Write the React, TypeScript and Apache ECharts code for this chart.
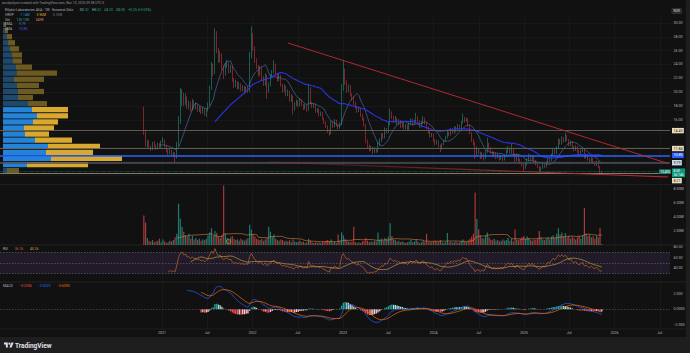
import React, { useEffect, useRef } from "react";
import * as echarts from "echarts";

// ---------------- data ----------------
const startDate = "2020-10-19"; // first weekly candle
const firstOpen = 17.0;
const closes = [
  14.2, 12.4, 12.9, 12.1, 11.8, 12.6, 12.2, 11.9, 12.5, 12.1,
  12.8, 13.1, 12.2, 11.5, 11.2, 11.6, 10.9, 11.1, 10.6, 12.4,
  15.8, 18.6, 19.6, 18.4, 19.2, 17.9, 18.3, 17.5, 18.6, 17.8,
  18.1, 17.3, 17.8, 17.0, 17.6, 16.9, 17.4, 18.2, 20.5, 23.8,
  22.8, 28.5, 26.0, 24.6, 25.4, 23.5, 22.6, 23.8, 24.1, 23.0,
  23.6, 21.8, 20.9, 21.5, 20.6, 21.2, 20.3, 20.8, 20.1, 20.6,
  20.2, 25.2, 28.2, 26.4, 24.6, 23.6, 22.6, 23.4, 22.0, 21.2,
  22.4, 20.3, 21.0, 22.3, 22.9, 24.0, 22.6, 21.8, 22.4, 21.0,
  20.2, 20.8, 19.6, 20.1, 18.8, 19.4, 17.6, 18.2, 18.6, 18.0,
  18.9, 18.2, 17.6, 18.1, 17.4, 20.6, 18.4, 17.9, 18.2, 17.2,
  17.5, 16.7, 17.0, 16.1, 15.6, 15.0, 14.3, 14.0, 15.6, 15.0,
  15.9, 15.2, 14.8, 15.4, 20.6, 23.0, 21.4, 20.2, 20.8, 19.6,
  19.0, 18.3, 17.8, 17.2, 17.6, 16.6, 16.1, 15.2, 12.8, 12.2,
  11.6, 12.0, 11.3, 11.8, 11.5, 12.4, 13.0, 13.8, 13.4, 14.6,
  14.2, 15.4, 17.0, 16.4, 15.8, 16.2, 15.4, 15.9, 15.0, 15.6,
  14.8, 15.2, 14.6, 15.4, 16.0, 15.3, 15.8, 16.4, 15.7, 15.0,
  15.6, 16.2, 15.5, 14.8, 14.2, 13.6, 13.9, 13.0, 12.5, 12.9,
  12.2, 11.8, 12.4, 12.9, 13.5, 14.2, 13.8, 14.6, 14.1, 14.9,
  14.4, 15.2, 14.7, 15.6, 16.3, 15.8, 16.1, 15.2, 14.1, 13.0,
  12.6, 10.9, 11.6, 11.2, 10.6, 11.0, 10.4, 11.4, 12.5, 11.8,
  11.3, 10.8, 11.2, 10.5, 10.9, 10.3, 10.7, 10.2, 10.8, 11.4,
  11.9, 11.3, 11.7, 11.0, 10.1, 10.9, 10.2, 9.8, 9.4, 9.0,
  9.6, 10.2, 10.8, 10.3, 10.7, 10.0, 9.6, 9.2, 8.7, 9.0,
  9.5, 9.2, 9.8, 10.4, 10.1, 10.9, 11.6, 11.2, 12.0, 13.0,
  12.6, 13.4, 12.9, 13.6, 13.1, 12.4, 12.8, 12.0, 11.6, 12.1,
  11.4, 11.0, 11.5, 11.8, 10.6, 10.9, 10.3, 10.0, 10.4, 9.8,
  9.5, 9.9, 9.2, 8.25, 8.5,
];
const highs = [
  17.9, 14.6, 13.1, 13.0, 12.3, 12.8, 12.9, 12.4, 12.7, 12.6,
  13.0, 13.5, 13.2, 12.3, 11.7, 11.8, 11.7, 11.4, 11.3, 12.8,
  16.5, 20.6, 20.4, 19.9, 19.8, 19.4, 18.8, 18.6, 19.0, 18.8,
  18.5, 18.3, 18.0, 17.9, 17.8, 17.7, 17.6, 18.5, 20.9, 24.4,
  24.1, 29.2, 28.8, 26.4, 25.9, 25.6, 23.9, 24.2, 24.6, 24.3,
  23.9, 23.8, 22.0, 21.8, 21.6, 21.4, 21.3, 21.0, 20.9, 20.8,
  20.8, 25.8, 29.5, 28.5, 26.6, 24.9, 23.9, 23.8, 23.6, 22.3,
  22.7, 22.5, 21.4, 22.6, 23.2, 24.6, 24.1, 22.8, 22.7, 22.5,
  21.2, 21.1, 20.9, 20.4, 20.2, 19.7, 19.5, 18.5, 18.9, 18.8,
  19.1, 19.0, 18.3, 18.3, 18.2, 21.2, 20.7, 18.6, 18.4, 18.3,
  17.7, 17.6, 17.2, 17.1, 16.3, 15.8, 15.2, 14.6, 15.9, 15.8,
  16.1, 16.0, 15.4, 15.6, 21.2, 24.5, 23.4, 21.7, 21.1, 21.0,
  19.8, 19.4, 18.6, 18.0, 17.9, 17.7, 16.8, 16.3, 15.4, 13.1,
  12.4, 12.2, 12.1, 12.0, 11.9, 12.8, 13.3, 14.1, 14.0, 14.9,
  14.8, 15.7, 17.6, 17.2, 16.6, 16.5, 16.3, 16.1, 16.0, 15.8,
  15.7, 15.4, 15.3, 15.6, 16.2, 16.2, 16.0, 17.0, 16.5, 15.9,
  15.8, 16.5, 16.3, 15.7, 15.0, 14.4, 14.1, 14.0, 13.2, 13.1,
  13.0, 12.4, 12.6, 13.1, 13.7, 14.5, 14.3, 14.8, 14.7, 15.1,
  15.0, 15.4, 15.3, 15.8, 16.9, 16.4, 16.3, 16.2, 15.3, 14.2,
  13.2, 12.8, 12.1, 11.8, 11.4, 11.3, 11.2, 11.6, 13.4, 12.7,
  12.0, 11.5, 11.4, 11.3, 11.1, 11.0, 10.9, 10.8, 11.0, 11.7,
  12.2, 12.0, 12.6, 11.8, 11.1, 11.1, 11.0, 10.4, 9.9, 9.6,
  9.8, 10.4, 11.1, 11.0, 10.9, 10.8, 10.2, 9.8, 9.4, 9.2,
  9.7, 9.6, 10.0, 10.6, 10.6, 11.1, 11.8, 11.8, 12.2, 13.3,
  13.2, 13.6, 13.5, 14.1, 13.8, 13.2, 13.0, 12.9, 12.2, 12.3,
  12.2, 11.6, 11.7, 12.0, 11.9, 11.1, 11.0, 10.5, 10.6, 10.5,
  10.0, 10.1, 10.0, 9.3, 8.52,
];
const lows = [
  13.8, 12.1, 12.0, 11.8, 11.5, 11.6, 12.0, 11.6, 11.7, 11.9,
  11.9, 12.6, 12.0, 11.3, 10.9, 11.0, 10.7, 10.6, 9.8, 10.4,
  12.2, 15.4, 18.0, 18.0, 18.1, 17.6, 17.5, 17.2, 17.3, 17.5,
  17.5, 17.1, 17.1, 16.8, 16.9, 16.6, 16.4, 17.2, 18.0, 20.3,
  22.3, 22.6, 25.6, 24.2, 24.3, 23.2, 21.9, 22.4, 23.5, 22.7,
  22.8, 21.5, 20.6, 20.7, 20.4, 20.4, 20.1, 20.1, 19.7, 19.9,
  19.9, 20.0, 24.9, 26.0, 24.2, 23.3, 22.2, 22.4, 21.7, 20.9,
  20.9, 19.0, 19.9, 20.8, 22.0, 22.7, 22.4, 21.5, 21.6, 20.8,
  19.9, 20.0, 19.4, 19.4, 18.6, 18.6, 16.8, 17.3, 18.0, 17.8,
  17.9, 18.0, 17.4, 17.5, 17.2, 17.3, 18.2, 17.7, 17.7, 17.0,
  17.0, 16.5, 16.5, 16.0, 15.4, 14.8, 14.1, 13.7, 13.9, 14.8,
  14.9, 15.0, 14.6, 14.7, 15.2, 20.2, 21.0, 19.9, 20.0, 19.4,
  18.8, 18.1, 17.6, 17.0, 17.1, 16.4, 15.9, 15.0, 12.6, 11.9,
  11.4, 11.5, 11.0, 11.2, 11.2, 11.3, 12.2, 12.8, 13.2, 13.3,
  14.0, 14.1, 15.2, 16.1, 15.6, 15.6, 15.2, 15.3, 14.8, 14.9,
  14.6, 14.6, 14.4, 14.5, 15.2, 15.1, 15.2, 15.6, 15.5, 14.8,
  14.9, 15.4, 15.3, 14.6, 14.0, 13.4, 13.5, 12.8, 12.3, 12.4,
  12.0, 11.3, 11.7, 12.3, 12.8, 13.3, 13.6, 13.7, 14.0, 14.0,
  14.2, 14.3, 14.5, 14.6, 15.5, 15.6, 15.7, 15.0, 13.9, 12.8,
  12.3, 10.3, 10.6, 11.0, 10.3, 10.4, 10.1, 10.3, 11.2, 11.6,
  11.1, 10.6, 10.6, 10.3, 10.4, 10.1, 10.2, 10.0, 10.1, 10.6,
  11.2, 11.1, 11.1, 10.8, 9.9, 10.0, 10.0, 9.6, 9.2, 8.6,
  8.9, 9.4, 10.0, 10.1, 10.1, 9.8, 9.4, 9.0, 8.4, 8.6,
  8.9, 9.0, 9.1, 9.6, 9.9, 10.0, 10.7, 11.0, 11.0, 11.8,
  12.4, 12.4, 12.7, 12.8, 12.9, 12.2, 12.2, 11.8, 11.4, 11.5,
  11.2, 10.8, 10.9, 11.3, 10.4, 10.4, 10.1, 9.8, 9.9, 9.6,
  9.3, 9.3, 9.0, 8.2, 8.2,
];
const volumesM = [
  4.2, 3.2, 1.0, 0.6, 0.5, 0.7, 0.4, 0.5, 0.6, 0.9,
  0.4, 0.8, 0.5, 0.3, 0.4, 0.6, 0.5, 0.7, 1.1, 1.6,
  5.9, 3.8, 2.6, 1.9, 1.4, 1.2, 1.6, 0.9, 1.3, 0.8,
  1.0, 0.7, 0.9, 0.6, 0.8, 0.7, 0.9, 1.4, 1.8, 2.4,
  1.3, 2.0, 1.7, 1.2, 1.0, 1.4, 8.5, 1.6, 1.0, 0.8,
  1.1, 1.3, 0.9, 0.7, 0.8, 0.6, 0.9, 0.7, 0.6, 0.8,
  1.0, 2.9, 2.2, 1.5, 1.2, 0.9, 0.8, 0.7, 0.9, 0.6,
  0.8, 1.0, 2.6, 1.9, 1.2, 1.5, 0.9, 0.7, 0.6, 0.8,
  0.7, 0.5, 0.6, 0.5, 0.7, 0.4, 0.8, 0.5, 0.4, 0.5,
  0.6, 0.4, 0.5, 0.3, 0.4, 0.9, 0.6, 0.4, 0.3, 0.4,
  0.3, 0.4, 0.3, 0.5, 0.4, 0.6, 0.7, 0.5, 0.8, 0.4,
  0.5, 0.3, 1.5, 0.6, 1.8, 1.4, 0.9, 0.6, 0.5, 0.4,
  0.5, 2.6, 0.4, 0.3, 0.4, 0.3, 0.5, 0.6, 1.0, 0.6,
  0.4, 0.5, 0.4, 0.6, 0.5, 1.8, 0.7, 0.9, 0.6, 1.0,
  0.8, 1.2, 3.1, 1.3, 0.8, 0.7, 0.5, 0.6, 0.4, 0.5,
  0.4, 0.3, 0.4, 0.5, 0.7, 0.4, 0.5, 0.8, 0.5, 0.3,
  0.4, 0.6, 0.4, 1.6, 0.4, 0.5, 0.4, 0.5, 0.6, 0.4,
  0.5, 0.7, 0.4, 0.3, 0.4, 1.7, 0.4, 0.5, 0.3, 0.4,
  0.5, 0.3, 0.4, 0.6, 0.8, 0.5, 0.4, 0.6, 0.9, 1.2,
  1.6, 7.5, 3.7, 2.2, 1.4, 1.0, 0.9, 1.3, 1.8, 1.1,
  0.8, 0.7, 0.9, 0.6, 0.7, 0.5, 0.6, 0.8, 0.6, 0.7,
  1.0, 0.6, 0.9, 0.5, 2.2, 0.8, 0.7, 0.9, 1.1, 1.3,
  0.9, 1.2, 1.0, 0.7, 0.6, 0.8, 0.7, 0.9, 2.0, 1.1,
  0.8, 0.7, 0.9, 1.1, 0.8, 1.2, 1.4, 1.0, 1.6, 2.4,
  1.5, 1.8, 1.2, 1.7, 1.1, 1.3, 0.9, 1.2, 1.0, 0.8,
  1.1, 1.3, 0.9, 1.4, 5.3, 1.6, 1.3, 1.5, 1.1, 1.2,
  0.9, 1.3, 1.1, 2.4, 0.13,
];

// visible-range volume profile (rows from the bottom)
const profileLow = 8.21;
const profileStep = 0.88;
const profileUp = [4, 24, 48, 43, 45, 32, 22, 21, 30, 34, 29, 25, 15, 15, 14, 11, 14, 13, 10, 9, 7, 5, 4, 2, 1];
const profileDown = [12, 61, 71, 47, 52, 37, 24, 30, 25, 31, 36, 19, 15, 26, 22, 30, 40, 16, 9, 10, 9, 7, 5, 3, 2];
const profileInValueArea = [false, true, true, true, true, true, true, true, true, true, true, false, false, false, false, false, false, false, false, false, false, false, false, false, false];

const yearTicks = [2021, 2021.5, 2022, 2022.5, 2023, 2023.5, 2024, 2024.5, 2025, 2025.5, 2026, 2026.5];
const priceGrid = [8, 10, 12, 14, 16, 18, 20, 22, 24, 26, 28, 30];
const priceLabels = [16, 18, 20, 22, 24, 26, 28, 30];
const volumeLabels = [2, 4, 6, 8];
const rsiLabels = [40, 60, 80];
const macdLabels = [-2, 0, 2];

const upperTrend = [[2022.392, 27.1], [2026.591, 9.68]];
const lowerTrend = [[2022.182, 9.89], [2026.591, 7.72]];

// ---------------- helpers ----------------
const DAY = 864e5;
const T0 = 2019.21;
const T1 = 2026.613;
const FONT = "Roboto, 'DejaVu Sans', sans-serif";

const toYear = (ms: number) => 2020 + (ms - Date.UTC(2020, 0, 1)) / (365.25 * DAY);

function sma(a: (number | null)[], n: number): (number | null)[] {
  const out: (number | null)[] = a.map(() => null);
  for (let i = n - 1; i < a.length; i++) {
    let s = 0;
    let ok = true;
    for (let j = i - n + 1; j <= i; j++) {
      const v = a[j];
      if (v == null) { ok = false; break; }
      s += v;
    }
    if (ok) out[i] = s / n;
  }
  return out;
}
function ema(a: (number | null)[], n: number): (number | null)[] {
  const out: (number | null)[] = a.map(() => null);
  const start = a.findIndex((v) => v != null);
  if (start < 0 || start + n - 1 >= a.length) return out;
  const k = 2 / (n + 1);
  let s = 0;
  for (let i = start; i < start + n; i++) s += a[i] as number;
  let prev = s / n;
  out[start + n - 1] = prev;
  for (let i = start + n; i < a.length; i++) {
    prev = k * (a[i] as number) + (1 - k) * prev;
    out[i] = prev;
  }
  return out;
}
function rsi(c: number[], n: number): (number | null)[] {
  const out: (number | null)[] = c.map(() => null);
  let ag = 0, al = 0;
  for (let i = 1; i <= n; i++) {
    const d = c[i] - c[i - 1];
    if (d > 0) ag += d; else al -= d;
  }
  ag /= n; al /= n;
  out[n] = al === 0 ? 100 : 100 - 100 / (1 + ag / al);
  for (let i = n + 1; i < c.length; i++) {
    const d = c[i] - c[i - 1];
    ag = (ag * (n - 1) + Math.max(d, 0)) / n;
    al = (al * (n - 1) + Math.max(-d, 0)) / n;
    out[i] = al === 0 ? 100 : 100 - 100 / (1 + ag / al);
  }
  return out;
}

echarts.graphic.registerShape(
  "tvlogo",
  echarts.graphic.extendPath(
    "M14 22H7V11H0V4h14v18z M28 22h-8l7.5-18h8L28 22z M24 8a4 4 0 1 1-8 0a4 4 0 0 1 8 0z",
    {}
  )
);

export default function App() {
  const ref = useRef<HTMLDivElement>(null);

  useEffect(() => {
    if (!ref.current) return;
    const chart = echarts.init(ref.current, null, { renderer: "svg" });

    const n = Math.min(closes.length, highs.length, lows.length, volumesM.length);
    const t0ms = Date.parse(startDate + "T00:00:00Z");
    const times = Array.from({ length: n }, (_, i) => toYear(t0ms + i * 7 * DAY));
    const cl = closes.slice(0, n);
    const opens = cl.map((_, i) => (i === 0 ? firstOpen : cl[i - 1]));
    const up = cl.map((c, i) => c >= opens[i]);

    const pairs = (arr: (number | null)[]) =>
      arr.map((v, i) => (v == null ? null : [times[i], v])).filter((p) => p != null);

    const candleData = times.map((t, i) => [t, opens[i], cl[i], lows[i], highs[i]]);
    const smaShort = sma(cl, 10);
    const smaLong = sma(cl, 42);
    const volMA = sma(volumesM.slice(0, n), 20);
    const rsiV = rsi(cl, 14);
    const rsiMA = sma(rsiV, 14);
    const e12 = ema(cl, 12);
    const e26 = ema(cl, 26);
    const macd = cl.map((_, i) => (e12[i] != null && e26[i] != null ? (e12[i] as number) - (e26[i] as number) : null));
    const signal = ema(macd, 9);
    const hist = macd.map((m, i) => (m != null && signal[i] != null ? m - (signal[i] as number) : null));
    const histData: any[] = [];
    hist.forEach((h, i) => {
      if (h == null) return;
      const prev = i > 0 ? hist[i - 1] : null;
      let color: string;
      if (h >= 0) color = prev == null || h > prev ? "#26a69a" : "#b2dfdb";
      else color = prev == null || h < prev ? "#ff5252" : "#ffcdd2";
      histData.push({ value: [times[i], h], itemStyle: { color } });
    });

    const volData = times.map((t, i) => ({
      value: [t, volumesM[i]],
      itemStyle: { color: up[i] ? "#1d7d70" : "#a83a3c" },
    }));

    const rowNames = profileUp.map((_, k) => (profileLow + k * profileStep).toFixed(2));
    const profUpData = profileUp.map((v, k) => ({
      value: v,
      itemStyle: { color: profileInValueArea[k] ? "#2283d8" : "#1d4a6c" },
    }));
    const profDownData = profileDown.map((v, k) => ({
      value: v,
      itemStyle: { color: profileInValueArea[k] ? "#d9a82f" : "#6d5a22" },
    }));

    const timeAxis = (gi: number, showLabels: boolean) => ({
      type: "value",
      gridIndex: gi,
      min: T0,
      max: T1,
      axisLine: { show: false },
      axisTick: { show: false, customValues: yearTicks },
      axisLabel: showLabels
        ? {
            customValues: yearTicks,
            formatter: (v: number) => (Math.abs(v - Math.round(v)) < 1e-6 ? String(Math.round(v)) : "Jul"),
            color: "#b2b5be",
            fontSize: 3.6,
            fontFamily: FONT,
            margin: 2.5,
          }
        : { show: false },
      splitLine: { show: true, lineStyle: { color: "#1a1a1a", width: 0.8 } },
    });
    const axisLabelStyle = { color: "#b2b5be", fontSize: 3.6, fontFamily: FONT, margin: 3.5 };

    const option: any = {
      animation: false,
      backgroundColor: "#111111",
      grid: [
        { left: 0, right: 20, top: 16, height: 166 },
        { left: 3, right: 20, top: 21.46, height: 152.2 },
        { left: 0, right: 20, top: 185, height: 60 },
        { left: 0, right: 20, top: 245, height: 38 },
        { left: 0, right: 20, top: 282, height: 46.5 },
      ],
      xAxis: [
        timeAxis(0, false),
        { type: "value", gridIndex: 1, min: 0, max: 667, show: false },
        timeAxis(2, false),
        timeAxis(3, false),
        timeAxis(4, true),
      ],
      yAxis: [
        {
          type: "value", gridIndex: 0, min: 7, max: 31, position: "right",
          axisLine: { show: false },
          axisTick: { show: false, customValues: priceGrid },
          axisLabel: { ...axisLabelStyle, customValues: priceLabels, formatter: (v: number) => v.toFixed(2) },
          splitLine: { show: true, lineStyle: { color: "#1a1a1a", width: 0.8 } },
        },
        { type: "category", gridIndex: 1, data: rowNames, show: false },
        {
          type: "value", gridIndex: 2, min: 0, max: 60 / 7, position: "right",
          axisLine: { show: false },
          axisTick: { show: false, customValues: volumeLabels },
          axisLabel: { ...axisLabelStyle, customValues: volumeLabels, formatter: (v: number) => v.toFixed(2) + "M" },
          splitLine: { show: false },
        },
        {
          type: "value", gridIndex: 3, min: 12, max: 84, position: "right",
          axisLine: { show: false },
          axisTick: { show: false, customValues: rsiLabels },
          axisLabel: { ...axisLabelStyle, customValues: rsiLabels, formatter: (v: number) => v.toFixed(2) },
          splitLine: { show: false },
        },
        {
          type: "value", gridIndex: 4, min: -2.5, max: 3.5, position: "right",
          axisLine: { show: false },
          axisTick: { show: false, customValues: macdLabels },
          axisLabel: {
            ...axisLabelStyle,
            customValues: macdLabels,
            formatter: (v: number) => (v === 0 ? "0.0000" : (v < 0 ? "\u2212" : "") + Math.abs(v).toFixed(3)),
          },
          splitLine: { show: false },
        },
      ],
      series: [
        {
          type: "candlestick",
          name: "price",
          xAxisIndex: 0,
          yAxisIndex: 0,
          data: candleData,
          encode: { x: 0, y: [1, 2, 3, 4] },
          barWidth: 1.2,
          z: 2,
          itemStyle: {
            color: "#22ab94", color0: "#f23645",
            borderColor: "#22ab94", borderColor0: "#f23645", borderWidth: 0.5,
          },
          markLine: {
            silent: true,
            symbol: ["none", "none"],
            label: { show: false },
            data: [
              { yAxis: 14.43, lineStyle: { color: "#69635a", width: 0.9, type: "solid" } },
              { yAxis: 11.84, lineStyle: { color: "#69635a", width: 0.9, type: "solid" } },
              { yAxis: 9.79, lineStyle: { color: "#4b525e", width: 1.6, type: "solid" } },
            ],
          },
        },
        {
          type: "line", name: "sma10", xAxisIndex: 0, yAxisIndex: 0, data: pairs(smaShort),
          showSymbol: false, z: 2, lineStyle: { color: "#42608f", width: 0.8 },
        },
        {
          type: "bar", name: "vpUp", xAxisIndex: 1, yAxisIndex: 1, stack: "vp", data: profUpData,
          barCategoryGap: "14%", z: 3,
        },
        {
          type: "bar", name: "vpDown", xAxisIndex: 1, yAxisIndex: 1, stack: "vp", data: profDownData,
          barCategoryGap: "14%", z: 3,
        },
        {
          type: "line", name: "sma42", xAxisIndex: 0, yAxisIndex: 0, data: pairs(smaLong),
          showSymbol: false, z: 4, lineStyle: { color: "#2b34e8", width: 1.1 },
          markLine: {
            silent: true,
            symbol: ["none", "none"],
            label: { show: false },
            data: [
              { yAxis: 10.85, lineStyle: { color: "#2962ff", width: 1.5, type: "solid" } },
              { yAxis: 8.5, lineStyle: { color: "#089981", width: 0.6, type: "dotted" } },
              { yAxis: 8.21, lineStyle: { color: "#a3987c", width: 0.8, type: "solid" } },
            ],
          },
        },
        {
          type: "line", name: "upperTrend", xAxisIndex: 0, yAxisIndex: 0, data: upperTrend,
          showSymbol: false, z: 5, lineStyle: { color: "#c42b36", width: 0.9 },
        },
        {
          type: "line", name: "lowerTrend", xAxisIndex: 0, yAxisIndex: 0, data: lowerTrend,
          showSymbol: false, z: 5,
          lineStyle: {
            width: 1.2,
            color: new echarts.graphic.LinearGradient(0, 0, 1, 0, [
              { offset: 0, color: "rgba(196,43,54,0.25)" },
              { offset: 1, color: "#c42b36" },
            ]),
          },
        },
        {
          type: "bar", name: "volume", xAxisIndex: 2, yAxisIndex: 2, data: volData, barWidth: 1.2,
        },
        {
          type: "line", name: "volMA", xAxisIndex: 2, yAxisIndex: 2, data: pairs(volMA),
          showSymbol: false, lineStyle: { color: "#d8864a", width: 0.6 },
        },
        {
          type: "line", name: "rsi", xAxisIndex: 3, yAxisIndex: 3, data: pairs(rsiV),
          showSymbol: false, lineStyle: { color: "#c4652b", width: 0.7 },
          markArea: {
            silent: true,
            itemStyle: { color: "rgba(126,87,194,0.14)" },
            data: [[{ yAxis: 30 }, { yAxis: 70 }]],
          },
          markLine: {
            silent: true,
            symbol: ["none", "none"],
            label: { show: false },
            lineStyle: { color: "#6b6f7a", width: 0.6, type: [1.5, 1.5] },
            data: [{ yAxis: 70 }, { yAxis: 50 }, { yAxis: 30 }],
          },
        },
        {
          type: "line", name: "rsiMA", xAxisIndex: 3, yAxisIndex: 3, data: pairs(rsiMA),
          showSymbol: false, lineStyle: { color: "#c9a13a", width: 0.7 },
        },
        {
          type: "bar", name: "hist", xAxisIndex: 4, yAxisIndex: 4, data: histData, barWidth: 1.3,
          markLine: {
            silent: true,
            symbol: ["none", "none"],
            label: { show: false },
            lineStyle: { color: "#5d606b", width: 0.6, type: [1.5, 1.5] },
            data: [{ yAxis: 0 }],
          },
        },
        {
          type: "line", name: "macd", xAxisIndex: 4, yAxisIndex: 4, data: pairs(macd),
          showSymbol: false, lineStyle: { color: "#2962ff", width: 0.7 },
        },
        {
          type: "line", name: "signal", xAxisIndex: 4, yAxisIndex: 4, data: pairs(signal),
          showSymbol: false, lineStyle: { color: "#ff6d00", width: 0.7 },
        },
      ],
    };
    chart.setOption(option);

    // ---------- overlay texts / price tags ----------
    const yOf = (v: number) => chart.convertToPixel({ yAxisIndex: 0 } as any, v) as number;
    const tag = (v: number, text: string, bg: string, fg: string, dy = 0) => ({
      type: "text",
      z: 100,
      x: 672,
      y: yOf(v) + dy,
      style: {
        text, fill: fg, backgroundColor: bg, padding: [0.8, 1.4, 0.6, 1.4],
        font: "3.6px " + FONT, verticalAlign: "middle", align: "left",
      },
    });
    const small = (size: number) => size + "px " + FONT;
    const legendRich = (base: any) => ({
      a: { fill: "#b2b5be", fontSize: 3.4, fontFamily: FONT },
      ...base,
    });

    const graphics: any[] = [
      { type: "rect", z: 90, shape: { x: 0, y: 337, width: 690, height: 16 }, style: { fill: "#1e1e1e" } },
      { type: "rect", z: 90, shape: { x: 686, y: 0, width: 4, height: 353 }, style: { fill: "#1e1e1e" } },
      { type: "line", z: 1, shape: { x1: 0, y1: 184.5, x2: 686, y2: 184.5 }, style: { stroke: "#222222", lineWidth: 0.8 } },
      { type: "line", z: 1, shape: { x1: 0, y1: 245, x2: 686, y2: 245 }, style: { stroke: "#262626", lineWidth: 0.8 } },
      { type: "line", z: 1, shape: { x1: 0, y1: 282, x2: 686, y2: 282 }, style: { stroke: "#262626", lineWidth: 0.8 } },
      { type: "line", z: 1, shape: { x1: 0, y1: 329, x2: 686, y2: 329 }, style: { stroke: "#222222", lineWidth: 0.8 } },
      {
        type: "text", z: 100, x: 2, y: 3.3,
        style: {
          text: "aurulpolycni created with TradingView.com, Nov 10, 2025 09:38 UTC-5",
          fill: "#9598a1", font: small(3.3), verticalAlign: "middle",
        },
      },
      {
        type: "text", z: 100, x: 5, y: 10,
        style: {
          text: "{a|Elliptic Laboratories ASA · 1W · Euronext Oslo}  {g|O}{v|8.32} {g|H}{v|8.52} {g|L}{v|8.20} {g|C}{v|8.50} {v|+0.25 (+3.03%)}",
          verticalAlign: "middle",
          rich: legendRich({
            g: { fill: "#b2b5be", fontSize: 3.4, fontFamily: FONT },
            v: { fill: "#22ab94", fontSize: 3.4, fontFamily: FONT },
          }),
        },
      },
      {
        type: "text", z: 100, x: 5, y: 15,
        style: {
          text: "{a|VRVP}  {u|1.14M}  {d|3.96M}  {t|5.10M}", verticalAlign: "middle",
          rich: legendRich({
            u: { fill: "#2a8be0", fontSize: 3.4, fontFamily: FONT },
            d: { fill: "#e0a93a", fontSize: 3.4, fontFamily: FONT },
            t: { fill: "#787b86", fontSize: 3.4, fontFamily: FONT },
          }),
        },
      },
      {
        type: "text", z: 100, x: 5, y: 19.7,
        style: {
          text: "{a|Vol}  {u|130.15K}  {o|549K}", verticalAlign: "middle",
          rich: legendRich({
            u: { fill: "#22ab94", fontSize: 3.4, fontFamily: FONT },
            o: { fill: "#e0884a", fontSize: 3.4, fontFamily: FONT },
          }),
        },
      },
      {
        type: "text", z: 100, x: 5, y: 24.3,
        style: {
          text: "{a|SMA}  {s|9.79}", verticalAlign: "middle",
          rich: legendRich({ s: { fill: "#5b7fbf", fontSize: 3.4, fontFamily: FONT } }),
        },
      },
      {
        type: "text", z: 100, x: 5, y: 29,
        style: {
          text: "{a|SMA}  {s|10.85}", verticalAlign: "middle",
          rich: legendRich({ s: { fill: "#3d5afe", fontSize: 3.4, fontFamily: FONT } }),
        },
      },
      {
        type: "text", z: 100, x: 3, y: 249,
        style: {
          text: "{a|RSI}  {r|36.26}  {m|45.26}", verticalAlign: "middle",
          rich: legendRich({
            r: { fill: "#c4652b", fontSize: 3.4, fontFamily: FONT },
            m: { fill: "#c9a13a", fontSize: 3.4, fontFamily: FONT },
          }),
        },
      },
      {
        type: "text", z: 100, x: 3, y: 286,
        style: {
          text: "{a|MACD}  {h|\u22120.2236}  {b|\u22120.8329}  {o|\u22120.6093}", verticalAlign: "middle",
          rich: legendRich({
            h: { fill: "#ff5252", fontSize: 3.4, fontFamily: FONT },
            b: { fill: "#2962ff", fontSize: 3.4, fontFamily: FONT },
            o: { fill: "#ff6d00", fontSize: 3.4, fontFamily: FONT },
          }),
        },
      },
      {
        type: "text", z: 100, x: 672, y: 11,
        style: {
          text: "NOK", fill: "#d1d4dc", font: small(3.2), verticalAlign: "middle",
          backgroundColor: "#2a2a2a", padding: [1, 1.6], borderColor: "#444", borderWidth: 0.4, borderRadius: 0.8,
        },
      },
      { type: "circle", z: 100, shape: { cx: 228.5, cy: 241.5, r: 2.2 }, style: { fill: "none", stroke: "#e08a2a", lineWidth: 0.7 } },
      { type: "tvlogo", z: 100, x: 4, y: 341.5, scaleX: 0.27, scaleY: 0.27, style: { fill: "#e0e3eb" } },
      {
        type: "text", z: 100, x: 15, y: 345.5,
        style: { text: "TradingView", fill: "#e0e3eb", font: "bold 6.5px " + FONT, verticalAlign: "middle" },
      },
      tag(14.43, "14.43", "#ecdcbc", "#131722"),
      tag(11.84, "11.84", "#ecdcbc", "#131722"),
      tag(10.85, "10.85", "#2962ff", "#ffffff"),
      tag(9.79, "9.79", "#cdd9e5", "#131722"),
      tag(8.21, "8.21", "#ecdcbc", "#131722", 7),
      {
        type: "text", z: 101, x: 672, y: yOf(8.5) + 1.2,
        style: {
          text: "8.50\n3d 14h", fill: "#ffffff", backgroundColor: "#089981", padding: [0.6, 1.4],
          font: "3.4px " + FONT, lineHeight: 3.8, verticalAlign: "middle", align: "left",
        },
      },
      {
        type: "text", z: 101, x: 671, y: yOf(8.5),
        style: {
          text: "13,405", fill: "#ffffff", backgroundColor: "#1a7f70", padding: [0.8, 1.2],
          font: "3.2px " + FONT, verticalAlign: "middle", align: "right",
        },
      },
    ];
    chart.setOption({ graphic: graphics });

    return () => chart.dispose();
  }, []);

  return (
    <div
      ref={ref}
      style={{ position: "fixed", left: 0, top: 0, width: 690, height: 353, background: "#111111" }}
    />
  );
}
